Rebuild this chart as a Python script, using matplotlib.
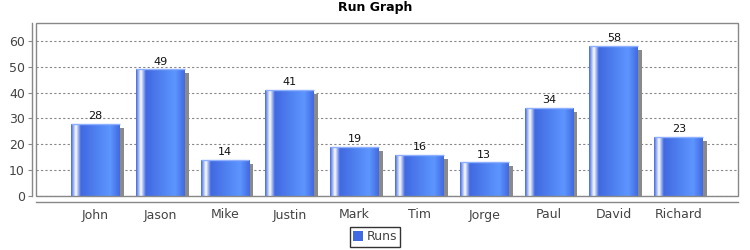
import numpy as np
import matplotlib
matplotlib.use("Agg")
import matplotlib.pyplot as plt
from matplotlib.patches import Rectangle

categories = ["John", "Jason", "Mike", "Justin", "Mark", "Tim", "Jorge", "Paul", "David", "Richard"]
runs = [28, 49, 14, 41, 19, 16, 13, 34, 58, 23]
series_name = "Runs"
yticks = [0, 10, 20, 30, 40, 50, 60]

base = np.array([65, 105, 225]) / 255.0
bright = np.minimum(base / 0.7, 1.0)
white = np.ones(3)

W, H = 750, 250
fig = plt.figure(figsize=(7.5, 2.5), dpi=100)
ax = fig.add_axes([36 / W, 1 - 196 / H, (738 - 36) / W, (196 - 23) / H])

x = np.arange(len(categories))
bw = 0.754
ymax = 66.9
ax.set_xlim(-0.915, len(categories) - 1 + 0.915)
ax.set_ylim(0, ymax)

# pixel -> data conversion
px_x = (len(categories) - 1 + 2 * 0.915) / (738 - 36)
px_y = ymax / (196 - 23)

# gradient profile (JFreeChart GradientBarPainter)
n = 200
t = np.linspace(0, 1, n)
prof = np.zeros((n, 3))
for i, tt in enumerate(t):
    if tt < 0.10:
        f = tt / 0.10
        prof[i] = base + (white - base) * f
    elif tt < 0.20:
        f = (tt - 0.10) / 0.10
        prof[i] = white * (1 - f) + base * f
    elif tt < 0.80:
        f = (tt - 0.20) / 0.60
        prof[i] = base * (1 - f) + bright * f
    else:
        f = (tt - 0.80) / 0.20
        prof[i] = bright * (1 - f) + base * f
img = prof[np.newaxis, :, :]

# shadows
ax.bar(x + 4 * px_x, np.maximum(np.array(runs) - 4 * px_y, 0), width=bw,
       color="#8a8a8a", zorder=2, linewidth=0)

bars = ax.bar(x, runs, width=bw, color=base, zorder=3, linewidth=0)
for b in bars:
    bx, by = b.get_x(), b.get_y()
    w, h = b.get_width(), b.get_height()
    im = ax.imshow(img, extent=[bx, bx + w, by, by + h], aspect="auto",
                   zorder=4, interpolation="bilinear")
    im.set_clip_path(b)
    ax.plot([bx, bx + w], [by + h, by + h], color="#8fb0ff", lw=1, zorder=5,
            solid_capstyle="butt")

for xi, v in zip(x, runs):
    ax.annotate(str(v), (xi, v), xytext=(0, 2), textcoords="offset points",
                ha="center", va="bottom", fontsize=8, color="#111111", zorder=6)

ax.set_yticks(yticks)
ax.yaxis.grid(True, linestyle=(0, (2, 2)), color="#888888", linewidth=0.8)
ax.set_axisbelow(True)
ax.set_xticks(x)
ax.set_xticklabels(categories)

for s in ["top", "right"]:
    ax.spines[s].set_visible(False)
ax.spines["left"].set_position(("outward", 3))
ax.spines["bottom"].set_position(("outward", 4))
ax.spines["left"].set_color("#888888")
ax.spines["bottom"].set_color("#888888")
ax.spines["left"].set_linewidth(1)
ax.spines["bottom"].set_linewidth(1)

ax.add_patch(Rectangle((0, 0), 1, 1, transform=ax.transAxes, fill=False,
                       edgecolor="#888888", linewidth=1, zorder=7, clip_on=False))

ax.tick_params(axis="y", length=3, width=0.8, color="#888888", labelsize=9,
               labelcolor="#444444", pad=2)
ax.tick_params(axis="x", length=0, labelsize=9, labelcolor="#444444", pad=5)

fig.text(0.5, 1 - 8 / H, "Run Graph", ha="center", va="center",
         fontsize=9, fontweight="bold")

handle = Rectangle((0, 0), 1, 1, facecolor=base)
leg = fig.legend([handle], [series_name], loc="center", bbox_to_anchor=(375 / W, 1 - 237 / H),
                 frameon=True, fancybox=False, fontsize=9, handlelength=0.8,
                 handleheight=0.8, handletextpad=0.3, borderpad=0.25,
                 borderaxespad=0)
leg.get_frame().set_edgecolor("black")
leg.get_frame().set_linewidth(1)
for t_ in leg.get_texts():
    t_.set_color("#444444")

fig.savefig("out.png", dpi=100)
